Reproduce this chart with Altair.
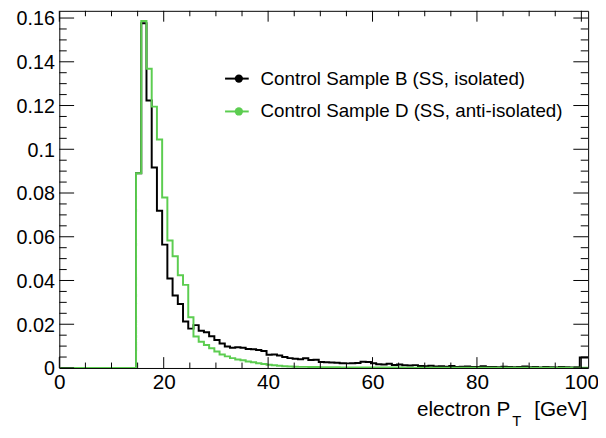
import altair as alt
import pandas as pd

# ---------------- data ----------------
x_lo, x_hi = 0.0, 101.3
y_lo, y_hi = 0.0, 0.1633
bin_start = 14.7
bin_width = 1.0

series_b = [0.089, 0.1576, 0.1223, 0.0917, 0.0719, 0.0564, 0.0409, 0.0331, 0.0293, 0.0213,
            0.0180, 0.0196, 0.0170, 0.0163, 0.0145, 0.0128, 0.0112, 0.0098, 0.0092, 0.0095,
            0.0093, 0.0087, 0.0086, 0.0082, 0.0078, 0.0060, 0.0062, 0.0057, 0.0050, 0.0045,
            0.0042, 0.0040, 0.0044, 0.0036, 0.0038, 0.0027, 0.0026, 0.0025, 0.0024, 0.0022,
            0.0021, 0.0022, 0.0023, 0.0028, 0.0027, 0.0022, 0.0017, 0.0016, 0.0019, 0.0014,
            0.0016, 0.0012, 0.0011, 0.0013, 0.0009, 0.0008, 0.0010, 0.0007, 0.0008, 0.0006,
            0.0009, 0.0005, 0.0006, 0.0007, 0.0004, 0.0005, 0.0008, 0.0004, 0.0005, 0.0003,
            0.0006, 0.0004, 0.0003, 0.0005, 0.0007, 0.0003, 0.0004, 0.0002, 0.0004, 0.0003,
            0.0002, 0.0005, 0.0003, 0.0002, 0.0003, 0.0048]

series_d = [0.089, 0.1586, 0.1368, 0.1195, 0.1045, 0.0779, 0.0583, 0.0511, 0.0424, 0.0380,
            0.0232, 0.0144, 0.0120, 0.0105, 0.0090, 0.0075, 0.0062, 0.0053, 0.0045, 0.0039,
            0.0035, 0.0030, 0.0026, 0.0022, 0.0018, 0.0015, 0.0012, 0.0010, 0.0008, 0.0007,
            0.0006, 0.0005, 0.0005, 0.0004, 0.0004, 0.0003, 0.0003, 0.0003, 0.0003, 0.0002,
            0.0002, 0.0002, 0.0002, 0.0002, 0.0002, 0.0002, 0.0002, 0.0002, 0.0002, 0.0002,
            0.0002, 0.0001, 0.0001, 0.0001, 0.0001, 0.0001, 0.0001, 0.0001, 0.0001, 0.0001,
            0.0001, 0.0001, 0.0001, 0.0001, 0.0001, 0.0001, 0.0001, 0.0001, 0.0001, 0.0001,
            0.0001, 0.0001, 0.0001, 0.0001, 0.0001, 0.0001, 0.0001, 0.0001, 0.0001, 0.0001,
            0.0001, 0.0001, 0.0001, 0.0001, 0.0001, 0.0001]

legend_labels = ["Control Sample B (SS, isolated)", "Control Sample D (SS, anti-isolated)"]
colors = ["#000000", "#5ccd50"]

x_tick_labels = [0, 20, 40, 60, 80, 100]
y_tick_labels = [0, 0.02, 0.04, 0.06, 0.08, 0.1, 0.12, 0.14, 0.16]
x_minor = [v for v in range(5, 101, 5) if v % 20 != 0]
y_minor = [round(0.005 * i, 3) for i in range(1, 33) if i % 4 != 0]

# ---------------- layout ----------------
W, H = 536, 362
FONT = "Liberation Sans"


def hist_df(vals):
    edges = [bin_start + i * bin_width for i in range(len(vals))]
    return pd.DataFrame({"x": [x_lo] + edges + [x_hi],
                         "y": [0.0] + list(vals) + [vals[-1]]})


xscale = alt.Scale(domain=[x_lo, x_hi], nice=False, zero=False)
yscale = alt.Scale(domain=[y_lo, y_hi], nice=False, zero=False)

x_axis = alt.Axis(values=x_tick_labels, title=None, ticks=False, domain=False, grid=False,
                  labelFontSize=21, labelFont=FONT, labelColor="black", labelPadding=4,
                  labelFlush=False, labelOverlap=False, format="d")
y_axis = alt.Axis(values=y_tick_labels, title=None, ticks=False, domain=False, grid=False,
                  labelFontSize=20, labelFont=FONT, labelColor="black", labelPadding=5,
                  labelOffset=1, labelOverlap=False, labelFlush=False, format="~g")

X = lambda: alt.X("x:Q", scale=xscale, axis=x_axis)
Y = lambda: alt.Y("y:Q", scale=yscale, axis=y_axis)

layers = []

# histogram B (black)
layers.append(
    alt.Chart(hist_df(series_b)).mark_line(interpolate="step-after", color=colors[0],
                                            strokeWidth=2, clip=True)
    .encode(x=X(), y=Y())
)
# histogram D (green)
layers.append(
    alt.Chart(hist_df(series_d)).mark_line(interpolate="step-after", color=colors[1],
                                            strokeWidth=2, clip=True)
    .encode(x=X(), y=Y())
)

# inward ticks (ROOT style)
xmaj = pd.DataFrame({"x": x_tick_labels})
xmin = pd.DataFrame({"x": x_minor})
ymaj = pd.DataFrame({"y": y_tick_labels})
ymin = pd.DataFrame({"y": y_minor})

for df, ln in ((xmaj, 11), (xmin, 5.5)):
    layers.append(alt.Chart(df).mark_rule(color="black", strokeWidth=1).encode(
        x=X(), y=alt.value(H), y2=alt.value(H - ln)))
    layers.append(alt.Chart(df).mark_rule(color="black", strokeWidth=1).encode(
        x=X(), y=alt.value(0), y2=alt.value(ln)))
for df, ln in ((ymaj, 15), (ymin, 7.5)):
    layers.append(alt.Chart(df).mark_rule(color="black", strokeWidth=1).encode(
        y=Y(), x=alt.value(0), x2=alt.value(ln)))
    layers.append(alt.Chart(df).mark_rule(color="black", strokeWidth=1).encode(
        y=Y(), x=alt.value(W), x2=alt.value(W - ln)))

# legend
leg_rows = [68.7, 102.0]
for lab, col, ry in zip(legend_labels, colors, leg_rows):
    one = pd.DataFrame({"label": [lab]})
    layers.append(alt.Chart(one).mark_rule(color=col, strokeWidth=2).encode(
        x=alt.value(168), x2=alt.value(192), y=alt.value(ry)))
    layers.append(alt.Chart(one).mark_point(filled=True, color=col, size=70, opacity=1).encode(
        x=alt.value(182), y=alt.value(ry)))
    layers.append(alt.Chart(one).mark_text(align="left", baseline="middle", font=FONT,
                                           fontSize=19, color="black").encode(
        x=alt.value(204), y=alt.value(ry), text="label:N"))

# x-axis title with subscript
layers.append(alt.Chart(pd.DataFrame({"t": ["electron P"]})).mark_text(
    align="right", baseline="alphabetic", font=FONT, fontSize=21, color="black").encode(
    x=alt.value(457), y=alt.value(411), text="t:N"))
layers.append(alt.Chart(pd.DataFrame({"t": ["T"]})).mark_text(
    align="left", baseline="alphabetic", font=FONT, fontSize=15, color="black").encode(
    x=alt.value(459), y=alt.value(421), text="t:N"))
layers.append(alt.Chart(pd.DataFrame({"t": ["[GeV]"]})).mark_text(
    align="right", baseline="alphabetic", font=FONT, fontSize=21, color="black").encode(
    x=alt.value(535), y=alt.value(411), text="t:N"))

chart = alt.layer(*layers).properties(
    width=W, height=H,
    autosize=alt.AutoSizeParams(type="none"),
    padding={"left": 52, "top": 0, "right": 10, "bottom": 60},
    background="white",
).configure_view(stroke="black", strokeWidth=1).configure_axis(
    labelFont=FONT, grid=False, ticks=False, domain=False, title=None)

chart.save("out.html", embed_options={"renderer": "svg", "actions": False})
